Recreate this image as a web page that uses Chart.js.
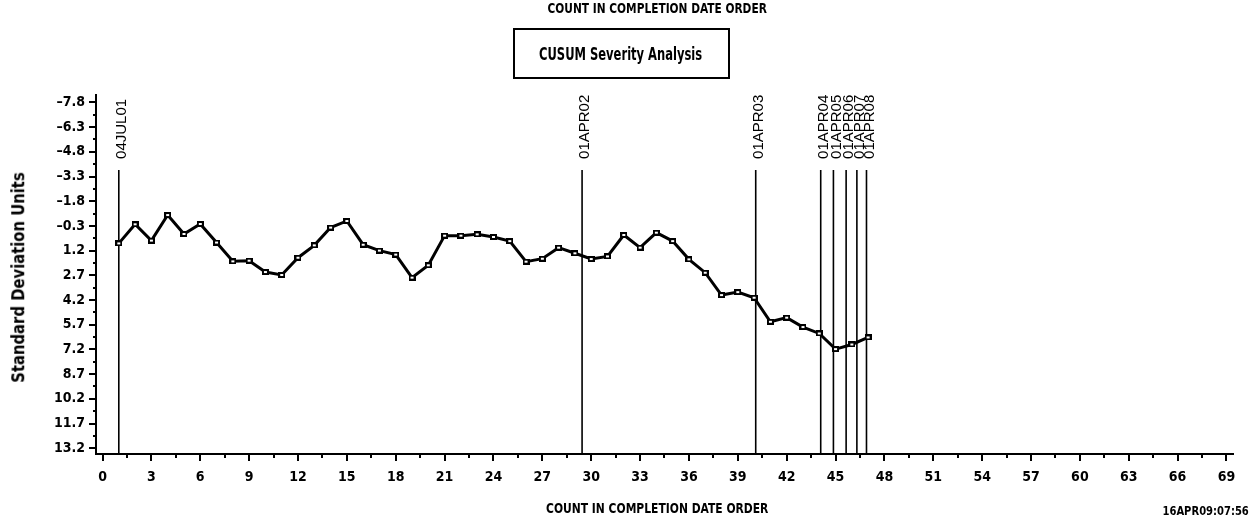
<!DOCTYPE html>
<html>
<head>
<meta charset="utf-8">
<title>CUSUM Severity Analysis</title>
<script src="https://cdn.jsdelivr.net/npm/chart.js@4.4.1/dist/chart.umd.min.js"></script>
<style>
  body { margin: 0; background: #fff; }
  #wrap { position: relative; width: 1251px; height: 518px; overflow: hidden; }
  #chart { position: absolute; left: 0; top: 0; }
  .txt {
    position: absolute;
    font-family: 'Liberation Sans Narrow', 'DejaVu Sans Condensed', 'Liberation Sans', sans-serif;
    font-weight: bold;
    color: #000;
    white-space: nowrap;
    line-height: 1;
  }
  #box {
    position: absolute;
    left: 513px; top: 28px;
    width: 213px; height: 47px;
    border: 2px solid #000;
  }
</style>
</head>
<body>
<div id="wrap">
  <canvas id="chart" width="1251" height="518"></canvas>
  <div id="box"></div>
  <div class="txt" id="topTitle">COUNT IN COMPLETION DATE ORDER</div>
  <div class="txt" id="boxTitle">CUSUM Severity Analysis</div>
  <div class="txt" id="yTitle">Standard Deviation Units</div>
  <div class="txt" id="xTitle">COUNT IN COMPLETION DATE ORDER</div>
  <div class="txt" id="footnote">16APR09:07:56</div>
</div>

<script>
// count in completion date order
const counts = [1, 2, 3, 4, 5, 6, 7, 8, 9, 10, 11, 12, 13, 14, 15, 16, 17, 18, 19, 20,
  21, 22, 23, 24, 25, 26, 27, 28, 29, 30, 31, 32, 33, 34, 35, 36, 37, 38, 39, 40,
  41, 42, 43, 44, 45, 46, 47];

// cusum in standard deviation units
const cusum = [0.76, -0.40, 0.59, -0.96, 0.19, -0.42, 0.71, 1.85, 1.81, 2.50,
  2.68, 1.63, 0.88, -0.20, -0.60, 0.84, 1.20, 1.44, 2.84, 2.09,
  0.29, 0.29, 0.21, 0.37, 0.62, 1.87, 1.69, 1.02, 1.36, 1.71,
  1.55, 0.25, 1.02, 0.11, 0.62, 1.73, 2.54, 3.90, 3.72, 4.06,
  5.52, 5.27, 5.84, 6.23, 7.18, 6.90, 6.47];

// date reference lines
const refDates = ['04JUL01', '01APR02', '01APR03', '01APR04', '01APR05', '01APR06', '01APR07', '01APR08'];
const refCounts = [1.0, 29.44, 40.10, 44.09, 44.87, 45.65, 46.31, 46.90];

// tick labels
const yTickValues = [-7.8, -6.3, -4.8, -3.3, -1.8, -0.3, 1.2, 2.7, 4.2, 5.7, 7.2, 8.7, 10.2, 11.7, 13.2];
const xTickValues = [0, 3, 6, 9, 12, 15, 18, 21, 24, 27, 30, 33, 36, 39, 42, 45, 48, 51, 54, 57, 60, 63, 66, 69];

const FONT = "'Liberation Sans Narrow', 'DejaVu Sans Condensed', 'Liberation Sans', sans-serif";

// major ticks plus a minor one half way between each pair
function withMinor(vals) {
  const out = [];
  vals.forEach((v, i) => {
    out.push(v);
    if (i < vals.length - 1) out.push(+((v + vals[i + 1]) / 2).toFixed(3));
  });
  return out;
}
const yAllTicks = withMinor(yTickValues);
const xAllTicks = withMinor(xTickValues);

// small square marker
const marker = document.createElement('canvas');
marker.width = 7;
marker.height = 6;
(function () {
  const m = marker.getContext('2d');
  m.fillStyle = '#000';
  m.fillRect(0, 0, 7, 6);
  m.fillStyle = '#fff';
  m.fillRect(2, 2, 3, 2);
})();

const refLinePlugin = {
  id: 'refLines',
  beforeDatasetsDraw(chart) {
    const ctx = chart.ctx;
    const xs = chart.scales.x;
    const ys = chart.scales.y;
    const top = ys.getPixelForValue(-3.7);
    ctx.save();
    ctx.strokeStyle = '#000';
    ctx.lineWidth = 1.6;
    refCounts.forEach((c, i) => {
      const px = xs.getPixelForValue(c);
      ctx.beginPath();
      ctx.moveTo(px, top);
      ctx.lineTo(px, chart.chartArea.bottom);
      ctx.stroke();

      ctx.save();
      ctx.translate(px + 3, top - 11);
      ctx.rotate(-Math.PI / 2);
      ctx.fillStyle = '#000';
      ctx.font = "15px 'Liberation Sans', Arial, sans-serif";
      ctx.textAlign = 'left';
      ctx.textBaseline = 'middle';
      ctx.fillText(refDates[i], 0, 0);
      ctx.restore();
    });
    ctx.restore();
  },
  afterDraw(chart) {
    // axis tick marks, long for labelled ticks and short for minor ones
    const ctx = chart.ctx;
    const area = chart.chartArea;
    const xs = chart.scales.x;
    const ys = chart.scales.y;
    ctx.save();
    ctx.strokeStyle = '#000';
    ctx.lineWidth = 2;
    yAllTicks.forEach((v, i) => {
      const py = Math.round(ys.getPixelForValue(v));
      const len = i % 2 === 0 ? 7 : 3;
      ctx.beginPath();
      ctx.moveTo(area.left, py);
      ctx.lineTo(area.left - len, py);
      ctx.stroke();
    });
    xAllTicks.forEach((v, i) => {
      const px = Math.round(xs.getPixelForValue(v));
      const len = i % 2 === 0 ? 7 : 4;
      ctx.beginPath();
      ctx.moveTo(px, area.bottom);
      ctx.lineTo(px, area.bottom + len);
      ctx.stroke();
    });
    ctx.restore();
  }
};

const ctx = document.getElementById('chart').getContext('2d');
new Chart(ctx, {
  type: 'line',
  data: {
    datasets: [{
      label: 'CUSUM',
      data: counts.map((c, i) => ({ x: c, y: cusum[i] })),
      borderColor: '#000',
      borderWidth: 3,
      tension: 0,
      pointStyle: marker,
      pointRadius: 4,
      fill: false
    }]
  },
  options: {
    responsive: false,
    animation: false,
    devicePixelRatio: 1,
    layout: { padding: { top: 95, right: 18, left: 0, bottom: 0 } },
    plugins: {
      legend: { display: false },
      tooltip: { enabled: false },
      title: { display: false }
    },
    scales: {
      x: {
        type: 'linear',
        min: -0.4,
        max: 69.4,
        afterBuildTicks: (scale) => { scale.ticks = xAllTicks.map(v => ({ value: v })); },
        afterFit: (scale) => { scale.height = 64; },
        ticks: {
          autoSkip: false,
          maxRotation: 0,
          padding: 8,
          color: '#000',
          font: { family: FONT, size: 14, weight: 'bold' },
          callback: (v, i) => (i % 2 === 0 ? String(v) : '')
        },
        grid: { drawOnChartArea: false, drawTicks: true, tickLength: 7, color: 'rgba(0,0,0,0)' },
        border: { display: true, color: '#000', width: 2 }
      },
      y: {
        type: 'linear',
        reverse: true,
        min: -8.25,
        max: 13.55,
        afterBuildTicks: (scale) => { scale.ticks = yAllTicks.map(v => ({ value: v })); },
        afterFit: (scale) => { scale.width = 96; },
        ticks: {
          autoSkip: false,
          padding: 4,
          color: '#000',
          font: { family: FONT, size: 14, weight: 'bold' },
          callback: (v, i) => (i % 2 === 0 ? v.toFixed(1).replace('-', '\u2013') : '')
        },
        grid: { drawOnChartArea: false, drawTicks: true, tickLength: 7, color: 'rgba(0,0,0,0)' },
        border: { display: true, color: '#000', width: 2 }
      }
    }
  },
  plugins: [refLinePlugin]
});

// place the html titles, squeezing them to the widths seen in the picture
function place(id, size, cx, cy, width, rotate) {
  const el = document.getElementById(id);
  el.style.fontSize = size + 'px';
  const k = width / el.offsetWidth;
  el.style.left = (cx - el.offsetWidth / 2) + 'px';
  el.style.top = (cy - el.offsetHeight / 2) + 'px';
  el.style.transform = (rotate ? 'rotate(-90deg) ' : '') + 'scaleX(' + k.toFixed(3) + ')';
}
place('topTitle', 14, 657, 8, 219);
place('boxTitle', 18, 620, 54, 163);
place('yTitle', 17, 18.5, 277, 210, true);
place('xTitle', 14, 657, 508, 222);
place('footnote', 12, 1205.5, 511, 86);
</script>
</body>
</html>
